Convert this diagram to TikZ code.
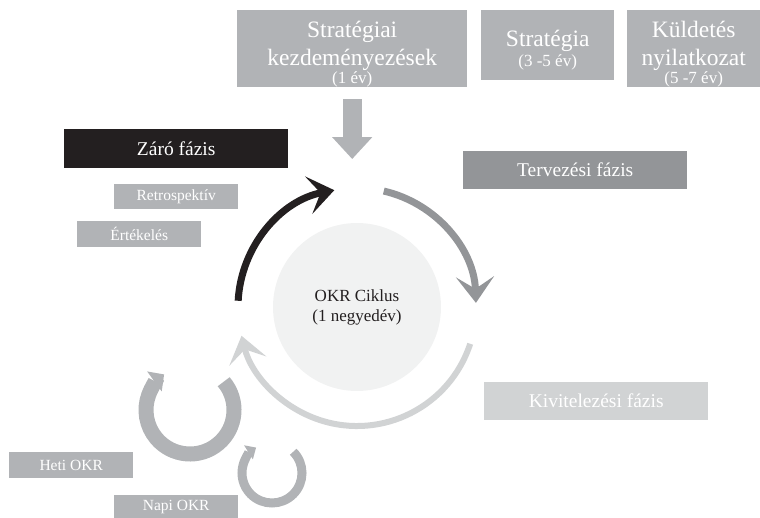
\documentclass[tikz,border=0pt]{standalone}
\usepackage{fontspec}
\setmainfont{Liberation Serif}
\usetikzlibrary{arrows.meta}
\usetikzlibrary{calc}

\definecolor{boxgray}{RGB}{177,179,182}
\definecolor{plangray}{RGB}{147,149,152}
\definecolor{execgray}{RGB}{209,211,212}
\definecolor{closeblack}{RGB}{35,31,32}
\definecolor{corefill}{RGB}{241,242,242}

\newcommand{\yearnote}[1]{{\fontsize{17}{19}\selectfont #1}}
\newcommand{\toppad}{\rule{0pt}{27pt}}

\begin{document}
\begin{tikzpicture}[x=1pt, y=-1pt,
    box/.style={fill=boxgray, text=white, inner sep=0pt, align=center, anchor=north west},
    goal/.style={box, minimum width=133pt, minimum height=70pt, font=\fontsize{23.5}{28}\selectfont},
    phase/.style={box, minimum width=224pt, minimum height=38pt, font=\fontsize{19.5}{22}\selectfont},
    tag/.style={box, minimum width=124pt, minimum height=26pt, font=\fontsize{15.5}{18}\selectfont},
    ring/.style={line width=7pt, -{Stealth[length=26pt, width=38pt, inset=12pt]}},
    spin/.style={boxgray, line width=15pt, -{Triangle[length=12pt, width=24pt]}}]

    \useasboundingbox (0, 0) rectangle (760, 518);

    % Time horizons on top
    \node[goal, minimum width=230pt] (strat) at (237, 10)
        {\toppad Stratégiai\\kezdeményezések\\[-10pt]\yearnote{(1 év)}};
    \node[goal] (strategia) at (481, 10) {\toppad Stratégia\\[-8pt]\yearnote{(3 -5 év)}};
    \node[goal] (kuldetes) at (627, 10)
        {\toppad Küldetés\\nyilatkozat\\[-10pt]\yearnote{(5 -7 év)}};

    \draw[boxgray, line width=19pt, -{Triangle[length=22pt, width=39pt]}]
        ($(strat.south) + (0, 12)$) -- ++(0, 60);

    % Phases
    \node[phase, fill=plangray] (terv) at (463, 151) {Tervezési fázis};
    \node[phase, fill=execgray] (kivit) at (484, 382) {Kivitelezési fázis};
    \node[phase, fill=closeblack, minimum height=39pt] (zaro) at (64, 129) {Záró fázis};

    \node[tag, minimum height=25pt] (retro) at (114, 184) {Retrospektív};
    \node[tag] (ertek) at (77, 221) {Értékelés};
    \node[tag] (heti) at (9, 452) {Heti OKR};
    \node[tag, minimum height=23pt] (napi) at (114, 495) {Napi OKR};

    % The cycle
    \node[circle, fill=corefill, minimum size=168pt, inner sep=0pt, align=center,
          text=closeblack, font=\fontsize{17}{20}\selectfont] (okr) at (357, 307)
        {OKR Ciklus\\(1 negyedév)};

    \draw[ring, closeblack] (okr.center) ++(-177:119)
        arc[start angle=-177, end angle=-101, radius=119];
    \draw[ring, plangray] (okr.center) ++(-77:119)
        arc[start angle=-77, end angle=-2, radius=119];
    \draw[ring, execgray, line width=6pt] (okr.center) ++(18:119)
        arc[start angle=18, end angle=166, radius=119];

    % Weekly and daily loops
    \coordinate (hetiring) at (190, 410);
    \coordinate (napiring) at (272, 473);
    \draw[spin] (hetiring) ++(-40:44) arc[start angle=-40, end angle=234, radius=44];
    \draw[spin, line width=9pt, -{Triangle[length=9pt, width=16pt]}]
        (napiring) ++(-45:30) arc[start angle=-45, end angle=238, radius=30];
\end{tikzpicture}
\end{document}
